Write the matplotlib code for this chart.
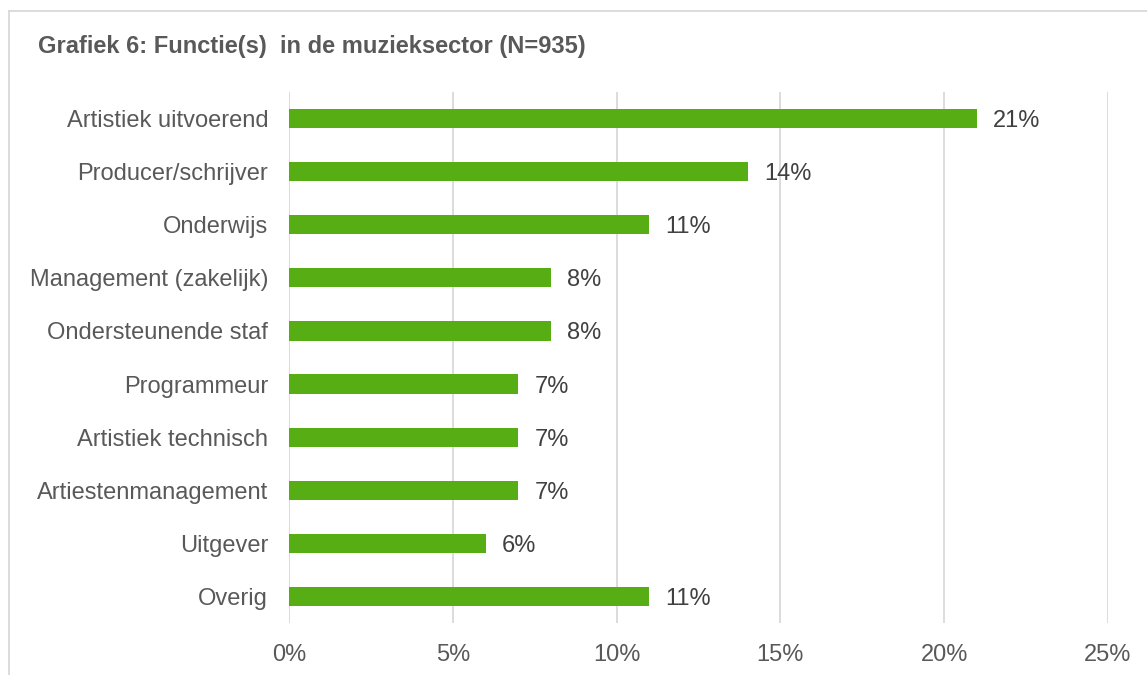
import numpy as np
import matplotlib.pyplot as plt
from matplotlib.lines import Line2D

categories = ['Artistiek uitvoerend', 'Producer/schrijver', 'Onderwijs',
              'Management (zakelijk)', 'Ondersteunende staf', 'Programmeur',
              'Artistiek technisch', 'Artiestenmanagement', 'Uitgever', 'Overig']
values = [21, 14, 11, 8, 8, 7, 7, 7, 6, 11]
xticks = [0, 5, 10, 15, 20, 25]

plt.rcParams['font.family'] = ['Liberation Sans', 'DejaVu Sans']

fig = plt.figure(figsize=(11.47, 6.75), dpi=100)
ax = fig.add_axes([289/1147, 1 - 623/675, (1108-289)/1147, (623-92)/675])

y = np.arange(len(categories))
ax.barh(y, values, height=0.36, color='#56ad14', zorder=3)
for yi, v in zip(y, values):
    ax.text(v + 0.5, yi, f'{v}%', va='center_baseline', ha='left', fontsize=17, color='#404040')

ax.set_xlim(0, 25)
ax.set_ylim(len(categories) - 0.5, -0.5)
ax.set_yticks(y)
ax.set_yticklabels(categories, fontsize=17, color='#595959')
ax.set_xticks(xticks)
ax.set_xticklabels([f'{t}%' for t in xticks], fontsize=17, color='#595959')
ax.tick_params(length=0)
ax.tick_params(axis='y', pad=15)
ax.tick_params(axis='x', pad=15)
ax.xaxis.grid(True, color='#d9d9d9', linewidth=1.3, zorder=0)
for s in ax.spines.values():
    s.set_visible(False)

fig.text(38/1147, 1 - 47/675, 'Grafiek 6: Functie(s)  in de muzieksector (N=935)',
         fontsize=17, fontweight='bold', color='#595959', va='center', ha='left')

# chart frame (top and left edges)
fig.add_artist(Line2D([9/1147, 1], [1 - 11/675, 1 - 11/675], color='#d9d9d9', linewidth=1.3))
fig.add_artist(Line2D([9/1147, 9/1147], [0, 1 - 11/675], color='#d9d9d9', linewidth=1.3))

fig.savefig('out.png', dpi=100)
